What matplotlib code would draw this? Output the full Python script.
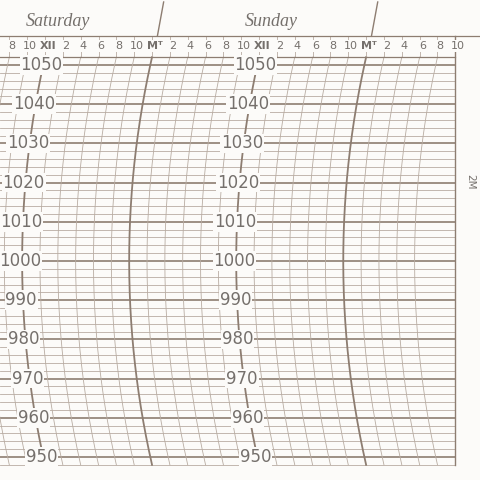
import numpy as np
import matplotlib.pyplot as plt

# chart data
days = ['Saturday', 'Sunday']
day_noon = [12, 36]             # hours from Saturday 00:00
hour_ticks = list(range(8, 60, 2))
pressure_labels = [1050, 1040, 1030, 1020, 1010, 1000, 990, 980, 970, 960, 950]
grid_pressures = list(range(948, 1054, 2))

# layout (pixel scale of the scan)
PX_H = 8.92      # px per hour
PX_P = 3.92      # px per hPa
R_PX = 920.0     # radius of time arcs in px
P_MID = 1000.0
P_TOP, P_BOT = 1052, 948
H_RIGHT = 58

line_c = '#b8aca2'
dark_c = '#8d7d71'
text_c = '#75706c'
bg = '#fcfbf9'


def arc_shift(p):
    # horizontal shift of a time arc, in hours, relative to its top end
    def d(pp):
        dy = (np.asarray(pp) - P_MID) * PX_P
        return R_PX - np.sqrt(R_PX**2 - dy**2)
    return (d(p) - d(P_TOP)) / PX_H


fig = plt.figure(figsize=(4.8, 4.8), dpi=100)
fig.patch.set_facecolor(bg)
ax = fig.add_axes([0, 0, 1, 1])
ax.set_facecolor(bg)
ax.set_xlim(12 - 45 / PX_H, 12 + 435 / PX_H)
ax.set_ylim(950 - 23 / PX_P, 1050 + 65 / PX_P)
ax.axis('off')

p_header = 1050 + (65 - 36) / PX_P
p_lab = 1050 + (65 - 46) / PX_P
x0 = ax.get_xlim()[0]

# horizontal pressure lines
for p in grid_pressures:
    heavy = p % 10 == 0
    ax.plot([x0, H_RIGHT], [p, p], color=dark_c if heavy else line_c,
            lw=1.2 if heavy else 0.6, zorder=1)
ax.plot([x0, H_RIGHT], [P_TOP, P_TOP], color=dark_c, lw=0.9)
ax.plot([x0, ax.get_xlim()[1]], [p_header, p_header], color=dark_c, lw=0.9)

# time arcs
pp = np.linspace(P_BOT, P_TOP, 200)
for h in hour_ticks:
    if h >= H_RIGHT:
        continue
    heavy = h % 24 == 0 or h % 24 == 12
    ax.plot(h + arc_shift(pp), pp, color=dark_c if heavy else line_c,
            lw=1.3 if heavy else 0.6, zorder=1)
    ax.plot([h, h], [P_TOP, p_header], color=line_c, lw=0.6, zorder=1)
ax.plot([H_RIGHT, H_RIGHT], [P_BOT, p_header], color=dark_c, lw=1.0)

# header hour labels
for h in hour_ticks + [H_RIGHT]:
    if h > H_RIGHT:
        continue
    m = h % 24
    if m == 12:
        lab, w = 'XII', 'bold'
    elif m == 0:
        lab, w = 'Mᵀ', 'bold'
    else:
        lab, w = str(m % 12), 'normal'
    ax.text(h + 0.3, p_lab, lab, ha='center', va='center', fontsize=8, weight=w,
            color=text_c, zorder=3,
            bbox=dict(boxstyle='square,pad=0.1', fc=bg, ec='none'))

# day names and separator strokes
for name, noon in zip(days, day_noon):
    ax.text(noon + 1.4, 1050 + (65 - 21) / PX_P, name, ha='center', va='center',
            fontsize=13, style='italic', family='Liberation Serif', color=text_c)
    ax.plot([noon + 12.6, noon + 13.3], [p_header, 1050 + 63 / PX_P], color=dark_c, lw=1.0)

# pressure labels along the noon arcs
for noon in day_noon:
    for p in pressure_labels:
        ax.text(noon + arc_shift(p) - 0.2, p, str(p), ha='center', va='center',
                fontsize=12, color=text_c, zorder=3,
                bbox=dict(boxstyle='square,pad=0.05', fc=bg, ec='none'))

ax.text(12 + 425 / PX_H, 1050 - (182 - 65) / PX_P, '2M', rotation=270, ha='center',
        va='center', fontsize=7.5, color=text_c)

fig.savefig('out.png', dpi=100)
